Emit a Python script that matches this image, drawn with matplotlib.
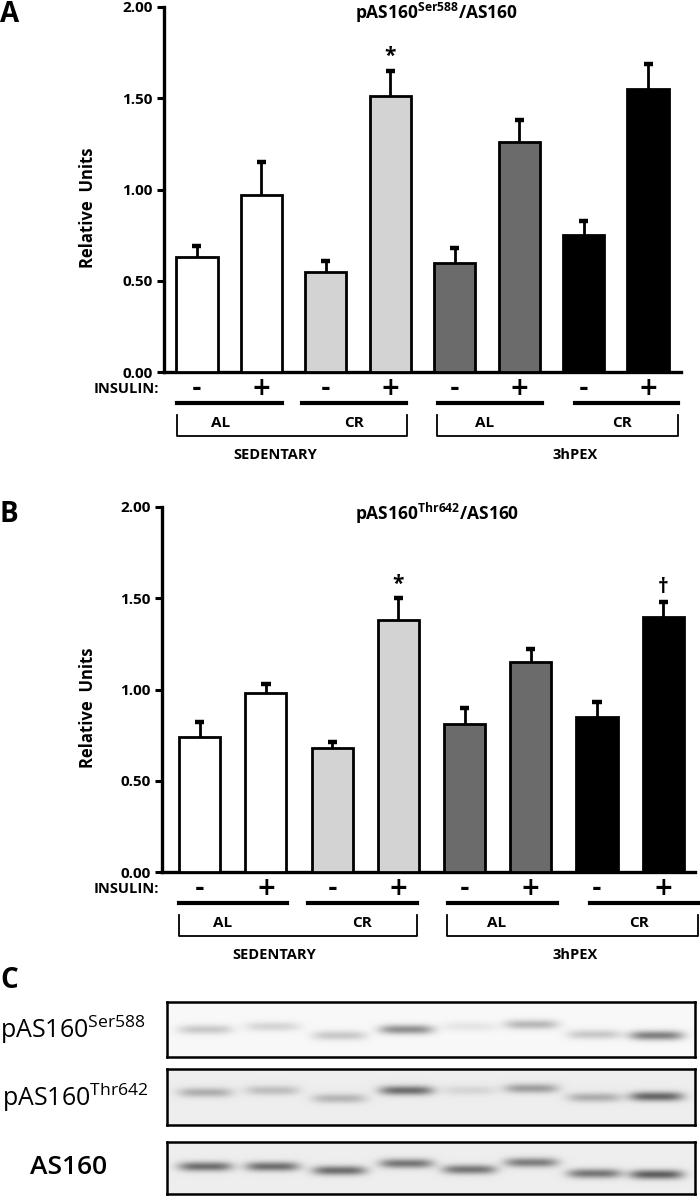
import numpy as np
import matplotlib.pyplot as plt
from matplotlib.transforms import blended_transform_factory

plt.rcParams['font.family'] = ['Open Sans', 'DejaVu Sans']

W, H = 700, 1196

# bar data
insulin = ['-', '+', '-', '+', '-', '+', '-', '+']
colors = ['white', 'white', '#d3d3d3', '#d3d3d3', '#6b6b6b', '#6b6b6b', 'black', 'black']

ser588_mean = [0.63, 0.97, 0.55, 1.51, 0.60, 1.26, 0.75, 1.55]
ser588_err = [0.06, 0.18, 0.06, 0.14, 0.08, 0.12, 0.08, 0.14]
ser588_marks = ['', '', '', '*', '', '', '', '']

thr642_mean = [0.74, 0.98, 0.68, 1.38, 0.81, 1.15, 0.85, 1.40]
thr642_err = [0.08, 0.05, 0.03, 0.12, 0.09, 0.07, 0.08, 0.08]
thr642_marks = ['', '', '', '*', '', '', '', '\u2020']

diet = ['AL', 'CR', 'AL', 'CR']
condition = ['SEDENTARY', '3hPEX']

# blot band intensities (0 = none, 1 = strongest) per lane
blot_labels = ['pAS160$^{\\mathregular{Ser588}}$', 'pAS160$^{\\mathregular{Thr642}}$', 'AS160']
ser588_bands = [0.30, 0.22, 0.30, 0.65, 0.12, 0.40, 0.30, 0.75]
thr642_bands = [0.40, 0.30, 0.35, 0.80, 0.15, 0.50, 0.40, 0.85]
as160_bands = [0.80, 0.80, 0.80, 0.75, 0.75, 0.70, 0.75, 0.90]


def rect(x0, y0, x1, y1):
    return [x0 / W, 1 - y1 / H, (x1 - x0) / W, (y1 - y0) / H]


def panel(fig, box, means, errs, marks, title, letter, xlim, width, layout):
    x0, y0, x1, y1 = box
    ax = fig.add_axes(rect(*box))
    pos = np.arange(len(means))
    means = np.array(means)
    tops = means + np.array(errs)
    ax.vlines(pos, means, tops, color='black', lw=2.0, zorder=2)
    ax.hlines(tops, pos - 0.07, pos + 0.07, color='black', lw=3.2, zorder=2)
    ax.bar(pos, means, width=width, color=colors, edgecolor='black', linewidth=2.0, zorder=3)
    for p, t, s in zip(pos, tops, marks):
        if s:
            ax.text(p, t + 0.02, s, ha='center', va='bottom', fontsize=15, fontweight='bold')
    ax.set_xlim(*xlim)
    ax.set_ylim(0, 2)
    ax.set_yticks([0, 0.5, 1.0, 1.5, 2.0])
    ax.set_yticklabels(['%.2f' % v for v in [0, 0.5, 1.0, 1.5, 2.0]], fontweight='bold')
    ax.set_xticks([])
    ax.tick_params(axis='y', direction='out', length=5, width=2.2, labelsize=11, pad=3)
    for s in ['top', 'right']:
        ax.spines[s].set_visible(False)
    for s in ['left', 'bottom']:
        ax.spines[s].set_linewidth(2.4)

    h = y1 - y0

    def fy(ypx):
        return (y1 - ypx) / h

    tr = blended_transform_factory(ax.transData, ax.transAxes)
    for p, lab in zip(pos, insulin):
        ax.text(p, fy(y1 + 16), lab, transform=tr, ha='center', va='center',
                fontsize=17, fontweight='heavy', family='DejaVu Sans')
    fig.text(159 / W, 1 - (y1 + 17) / H, 'INSULIN:', ha='right', va='center',
             fontsize=10.5, fontweight='bold')
    for a, b in layout['lines']:
        ax.plot([a, b], [fy(y1 + 31)] * 2, transform=tr, clip_on=False, color='black', lw=3.0)
    for a, b in layout['brackets']:
        ax.plot([a, a, b, b], [fy(y1 + 43), fy(y1 + 64), fy(y1 + 64), fy(y1 + 43)],
                transform=tr, clip_on=False, color='black', lw=1.3)
    for xp, lab in zip(layout['diet'], diet):
        ax.text(xp, fy(y1 + 51), lab, transform=tr, ha='center', va='center',
                fontsize=11, fontweight='bold')
    for xp, lab in zip(layout['cond'], condition):
        ax.text(xp, fy(y1 + 83), lab, transform=tr, ha='center', va='center',
                fontsize=10.5, fontweight='bold')

    fig.text(88 / W, 1 - (y1 - 0.45 * h) / H, 'Relative  Units', rotation=90,
             ha='center', va='center', fontsize=12, fontweight='bold')
    fig.text(437 / W, 1 - (y0 + 6) / H, title, ha='center', va='center',
             fontsize=12.5, fontweight='bold')
    fig.text(0, 1 - (y0 + 8) / H, letter, ha='left', va='center',
             fontsize=20, fontweight='bold')
    return ax


def blot(fig, box, bands, offsets, bg, label, labx, ha, weight, size):
    x0, y0, x1, y1 = box
    ax = fig.add_axes(rect(*box))
    ncol, nrow = x1 - x0, y1 - y0
    img = np.full((nrow, ncol), bg)
    yy, xx = np.mgrid[0:nrow, 0:ncol]
    lanes = [205, 272, 339, 406, 469, 531, 594, 656]
    for lx, inten, off in zip(lanes, bands, offsets):
        prof = np.exp(-((xx - (lx - x0)) / 27.0) ** 4) * np.exp(-((yy - off) / 4.8) ** 2)
        img = img - 0.62 * inten * prof
    ax.imshow(img, cmap='gray', vmin=0, vmax=1, aspect='auto', interpolation='bilinear')
    ax.set_xticks([])
    ax.set_yticks([])
    for s in ax.spines.values():
        s.set_linewidth(1.8)
    fig.text(labx / W, 1 - ((y0 + y1) / 2) / H, label, ha=ha, va='center',
             fontsize=size, fontweight=weight)


fig = plt.figure(figsize=(W / 100, H / 100), dpi=100)

panel(fig, (164, 7, 681, 372), ser588_mean, ser588_err, ser588_marks,
      'pAS160$^{\\mathregular{Ser588}}$/AS160', 'A', (-0.51, 7.51), 0.64,
      {'lines': [(-0.31, 1.32), (1.63, 3.24), (3.74, 5.36), (5.86, 7.47)],
       'brackets': [(-0.31, 3.26), (3.72, 7.47)],
       'diet': [0.36, 2.43, 4.47, 6.59],
       'cond': [1.21, 5.86]})

panel(fig, (162, 507, 695, 872), thr642_mean, thr642_err, thr642_marks,
      'pAS160$^{\\mathregular{Thr642}}$/AS160', 'B', (-0.57, 7.48), 0.62,
      {'lines': [(-0.32, 1.32), (1.63, 3.28), (3.75, 5.40), (5.90, 7.53)],
       'brackets': [(-0.32, 3.28), (3.74, 7.53)],
       'diet': [0.35, 2.45, 4.49, 6.63],
       'cond': [1.13, 5.67]})

fig.text(0, 1 - 980 / H, 'C', ha='left', va='center', fontsize=20, fontweight='bold')
blot(fig, (167, 1002, 695, 1057), ser588_bands, [27, 24, 33, 27, 24, 22, 32, 33], 0.97,
     blot_labels[0], 0, 'left', 'normal', 18)
blot(fig, (167, 1069, 695, 1125), thr642_bands, [23, 21, 29, 21, 21, 19, 28, 27], 0.93,
     blot_labels[1], 2, 'left', 'normal', 18)
blot(fig, (167, 1142, 695, 1194), as160_bands, [24, 24, 28, 21, 27, 20, 31, 32], 0.93,
     blot_labels[2], 69, 'center', 'semibold', 19)

fig.savefig('out.png', dpi=100)
